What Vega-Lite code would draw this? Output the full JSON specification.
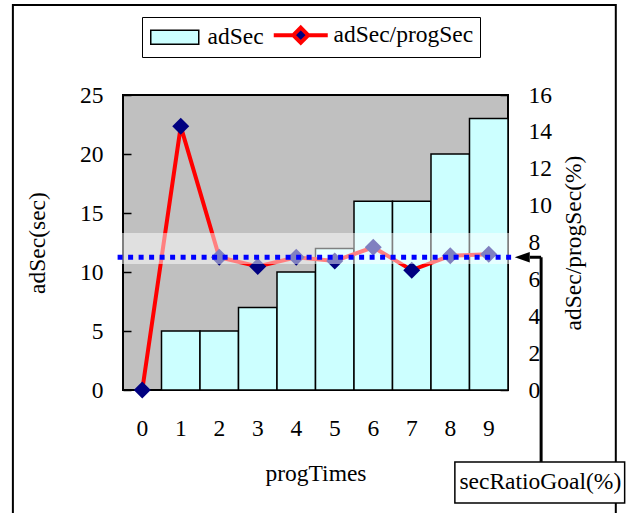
{
  "$schema": "https://vega.github.io/schema/vega-lite/v6.json",
  "width": 385,
  "height": 295,
  "autosize": {"type": "none"},
  "padding": {"left": 123, "top": 95, "right": 123, "bottom": 123},
  "background": "white",
  "config": {
    "font": "Liberation Serif",
    "view": {"fill": "#c0c0c0", "stroke": "black", "strokeWidth": 2},
    "axis": {
      "labelFont": "Liberation Serif", "titleFont": "Liberation Serif",
      "labelFontSize": 23.5, "titleFontSize": 23.5,
      "labelColor": "black", "titleColor": "black", "titleFontWeight": "normal",
      "grid": false, "domain": false, "tickColor": "black", "tickWidth": 1.5
    }
  },
  "datasets": {
    "main": [
      {"t": 0, "adSec": 0, "ratio": 0},
      {"t": 1, "adSec": 5, "ratio": 14.3},
      {"t": 2, "adSec": 5, "ratio": 7.2},
      {"t": 3, "adSec": 7, "ratio": 6.7},
      {"t": 4, "adSec": 10, "ratio": 7.2},
      {"t": 5, "adSec": 12, "ratio": 7.0},
      {"t": 6, "adSec": 16, "ratio": 7.74},
      {"t": 7, "adSec": 16, "ratio": 6.5},
      {"t": 8, "adSec": 20, "ratio": 7.28},
      {"t": 9, "adSec": 23, "ratio": 7.36}
    ],
    "goal": [{"goal": 7.2, "lo": 6.83, "hi": 8.52, "label": "secRatioGoal(%)"}]
  },
  "resolve": {"scale": {"x": "independent", "y": "independent"}},
  "layer": [
    {
      "data": {"name": "main"},
      "mark": {"type": "bar", "stroke": "black", "strokeWidth": 1.5},
      "encoding": {
        "x": {"field": "t", "type": "ordinal",
          "scale": {"type": "band", "paddingInner": 0, "paddingOuter": 0},
          "axis": {"title": "progTimes", "labelAngle": 0, "ticks": false, "labelPadding": 26, "titlePadding": 22}},
        "y": {"field": "adSec", "type": "quantitative",
          "scale": {"domain": [0, 25], "nice": false},
          "axis": {"orient": "left", "title": "adSec(sec)", "values": [0, 5, 10, 15, 20, 25], "tickSize": -8, "labelPadding": 28, "titlePadding": 30}},
        "fill": {"datum": "adSec",
          "scale": {"domain": ["adSec", "adSec/progSec"], "range": ["#ccffff", "#000080"]},
          "legend": {
            "orient": "none", "legendX": 19, "legendY": -78, "direction": "horizontal",
            "title": null, "strokeColor": "black", "fillColor": "white", "padding": 6,
            "labelFont": "Liberation Serif", "labelFontSize": 23.5, "labelColor": "black",
            "symbolSize": 400, "symbolOffset": 15, "labelOffset": 21, "columnPadding": 1,
            "symbolType": {"expr": "datum.value === 'adSec' ? 'M-2.4,-0.7H2.4V0.7H-2.4Z' : 'M-2.7,0H-0.8M0.8,0H2.7M0,-0.75L0.75,0L0,0.75L-0.75,0Z'"},
            "symbolStrokeColor": {"expr": "datum.value === 'adSec' ? 'black' : 'red'"},
            "symbolStrokeWidth": {"expr": "datum.value === 'adSec' ? 1.5 : 4"},
            "symbolOpacity": 1
          }}
      }
    },
    {
      "data": {"name": "main"},
      "encoding": {
        "x": {"field": "t", "type": "ordinal",
          "scale": {"type": "band", "paddingInner": 0, "paddingOuter": 0}, "axis": null},
        "y": {"field": "ratio", "type": "quantitative",
          "scale": {"domain": [0, 16], "nice": false},
          "axis": {"orient": "right", "title": "adSec/progSec(%)", "values": [0, 2, 4, 6, 8, 10, 12, 14, 16], "tickSize": -8, "labelPadding": 28, "titleAngle": 270, "titlePadding": 34}}
      },
      "layer": [
        {"mark": {"type": "line", "color": "#ff0000", "strokeWidth": 4}},
        {"mark": {"type": "point", "shape": "diamond", "filled": true, "color": "#000080", "size": 290, "opacity": 1}}
      ]
    },
    {
      "data": {"name": "goal"},
      "layer": [
        {
          "mark": {"type": "rect", "fillOpacity": 0, "stroke": "black", "strokeWidth": 2},
          "encoding": {
            "x": {"datum": -3.36, "type": "quantitative", "scale": {"domain": [-0.5, 9.5], "nice": false, "zero": false}, "axis": null},
            "x2": {"datum": 12.3},
            "y": {"datum": 20.88, "type": "quantitative", "scale": {"domain": [0, 16], "nice": false, "zero": false}, "axis": null},
            "y2": {"datum": -7.5}
          }
        },
        {
          "mark": {"type": "rect", "fill": "white", "opacity": 0.5},
          "encoding": {
            "x": {"datum": -0.64, "type": "quantitative"},
            "x2": {"datum": 9.54},
            "y": {"field": "lo", "type": "quantitative"},
            "y2": {"field": "hi"}
          }
        },
        {
          "mark": {"type": "rule", "stroke": "#0000ff", "strokeWidth": 5, "strokeDash": [5, 5.5]},
          "encoding": {
            "x": {"datum": -0.64, "type": "quantitative"},
            "x2": {"datum": 9.6},
            "y": {"field": "goal", "type": "quantitative"}
          }
        },
        {
          "mark": {"type": "point", "shape": "M-1,0L1,-0.7L1,0.7Z", "filled": true, "color": "black", "size": 225, "opacity": 1},
          "encoding": {
            "x": {"datum": 9.87, "type": "quantitative"},
            "y": {"field": "goal", "type": "quantitative"}
          }
        },
        {
          "mark": {"type": "rule", "stroke": "black", "strokeWidth": 3},
          "encoding": {
            "x": {"datum": 10.07, "type": "quantitative"},
            "x2": {"datum": 10.36},
            "y": {"field": "goal", "type": "quantitative"}
          }
        },
        {
          "mark": {"type": "rule", "stroke": "black", "strokeWidth": 3},
          "encoding": {
            "x": {"datum": 10.36, "type": "quantitative"},
            "y": {"field": "goal", "type": "quantitative"},
            "y2": {"datum": -3.9}
          }
        },
        {
          "mark": {"type": "rect", "fill": "white", "stroke": "black", "strokeWidth": 1.5},
          "encoding": {
            "x": {"datum": 8.12, "type": "quantitative"},
            "x2": {"datum": 12.53},
            "y": {"datum": -3.9, "type": "quantitative"},
            "y2": {"datum": -6.13}
          }
        },
        {
          "mark": {"type": "text", "font": "Liberation Serif", "fontSize": 23.5, "color": "black", "align": "center", "baseline": "middle"},
          "encoding": {
            "x": {"datum": 10.34, "type": "quantitative"},
            "y": {"datum": -5.0, "type": "quantitative"},
            "text": {"field": "label"}
          }
        }
      ]
    }
  ]
}
